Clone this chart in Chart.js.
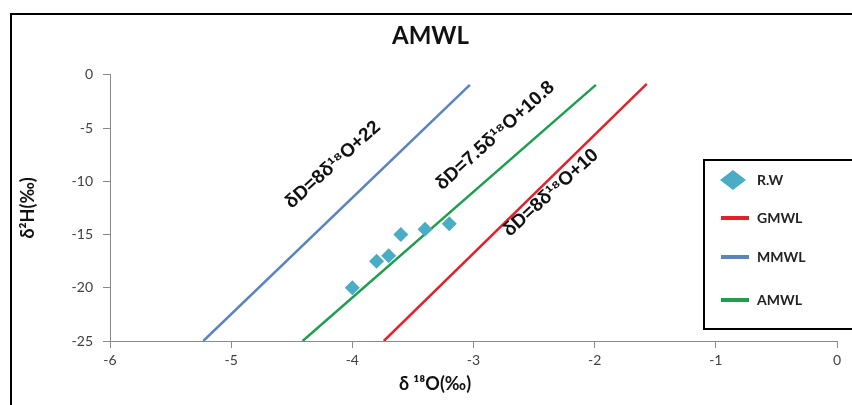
<!DOCTYPE html>
<html><head><meta charset="utf-8">
<script src="https://cdn.jsdelivr.net/npm/chart.js@4"></script>
<style>html,body{margin:0;padding:0;background:#fff;}#wrap{width:852px;height:405px;position:relative;}</style>
</head><body><div id="wrap"><canvas id="c" width="852" height="405"></canvas></div>
<script>
const titleText = 'AMWL';
const xTitle = 'δ ¹⁸O(‰)';
const yTitle = 'δ²H(‰)';
const rwX = [-4.0, -3.8, -3.7, -3.6, -3.4, -3.2];
const rwY = [-20, -17.5, -17, -15, -14.5, -14];
const gmwlX = [-3.74, -1.57];
const gmwlY = [-25, -0.85];
const mmwlX = [-5.23, -3.03];
const mmwlY = [-25, -0.95];
const amwlX = [-4.41, -1.99];
const amwlY = [-25, -0.95];
const seriesNames = ['R.W', 'GMWL', 'MMWL', 'AMWL'];
const lineLabels = ['δD=8δ¹⁸O+22', 'δD=7.5δ¹⁸O+10.8', 'δD=8δ¹⁸O+10'];
const lineLabelX = [-4.16, -2.82, -2.36];
const lineLabelY = [-8.46, -5.73, -11.09];
const xTicks = [-6, -5, -4, -3, -2, -1, 0];
const yTicks = [-25, -20, -15, -10, -5, 0];

const pts = (xs, ys) => xs.map((x, i) => ({x: x, y: ys[i]}));
const FONT = 'Lato, "Liberation Sans", sans-serif';

const framePlugin = {
  id: 'frame',
  beforeDraw(chart) {
    const ctx = chart.ctx;
    ctx.save();
    ctx.fillStyle = '#fff';
    ctx.fillRect(0, 0, chart.width, chart.height);
    ctx.strokeStyle = '#000';
    ctx.lineWidth = 2;
    ctx.beginPath();
    ctx.moveTo(11, 420); ctx.lineTo(11, 14); ctx.lineTo(870, 14);
    ctx.stroke();
    ctx.restore();
  }
};

const labelPlugin = {
  id: 'lineLabels',
  afterDatasetsDraw(chart) {
    const ctx = chart.ctx, xs = chart.scales.x, ys = chart.scales.y;
    ctx.save();
    ctx.fillStyle = '#111';
    ctx.font = 'bold 19px Arial, "Liberation Sans", sans-serif';
    ctx.textAlign = 'center';
    ctx.textBaseline = 'middle';
    lineLabels.forEach((t, i) => {
      ctx.save();
      ctx.translate(xs.getPixelForValue(lineLabelX[i]), ys.getPixelForValue(lineLabelY[i]));
      ctx.rotate(-42 * Math.PI / 180);
      ctx.fillText(t, 0, 0);
      ctx.restore();
    });
    // x axis title, centred under the whole figure as in the reference
    ctx.font = 'bold 18px ' + FONT;
    ctx.fillText(xTitle, 435, 384);
    ctx.restore();
  }
};

const legendPlugin = {
  id: 'boxLegend',
  afterDraw(chart) {
    const ctx = chart.ctx;
    ctx.save();
    ctx.fillStyle = '#fff';
    ctx.fillRect(704, 160, 160, 169);
    ctx.strokeStyle = '#000';
    ctx.lineWidth = 2;
    ctx.strokeRect(704, 160, 170, 169);
    const rowsY = [180, 218, 257, 300];
    ctx.font = 'bold 14px ' + FONT;
    ctx.textBaseline = 'middle';
    chart.data.datasets.forEach((ds, i) => {
      const y = rowsY[i];
      if (i === 0) {
        ctx.fillStyle = ds.backgroundColor;
        ctx.beginPath();
        ctx.moveTo(720, y); ctx.lineTo(733, y - 10); ctx.lineTo(746, y); ctx.lineTo(733, y + 10);
        ctx.closePath(); ctx.fill();
      } else {
        ctx.strokeStyle = ds.borderColor;
        ctx.lineWidth = 4;
        ctx.beginPath(); ctx.moveTo(721, y); ctx.lineTo(749, y); ctx.stroke();
      }
      ctx.fillStyle = '#222';
      ctx.fillText(ds.label, 757, y);
    });
    ctx.restore();
  }
};

new Chart(document.getElementById('c'), {
  type: 'scatter',
  data: {
    datasets: [
      {label: seriesNames[0], data: pts(rwX, rwY), pointStyle: 'rectRot', pointRadius: 7.5, backgroundColor: '#4bacc6', borderColor: '#4bacc6', borderWidth: 0, showLine: false, order: 0},
      {label: seriesNames[1], data: pts(gmwlX, gmwlY), showLine: true, borderColor: '#e3212b', borderWidth: 2.5, pointRadius: 0, order: 1},
      {label: seriesNames[2], data: pts(mmwlX, mmwlY), showLine: true, borderColor: '#5b83be', borderWidth: 2.5, pointRadius: 0, order: 2},
      {label: seriesNames[3], data: pts(amwlX, amwlY), showLine: true, borderColor: '#1f9e4e', borderWidth: 2.5, pointRadius: 0, order: 3}
    ]
  },
  options: {
    responsive: false,
    animation: false,
    layout: {padding: {left: 24, right: 15, top: 0, bottom: 0}},
    plugins: {
      legend: {display: false},
      tooltip: {enabled: false},
      title: {display: true, text: titleText, color: '#111', font: {family: FONT, size: 24, weight: 'bold'}, padding: {top: 22, bottom: 24}}
    },
    scales: {
      x: {
        type: 'linear', min: -6, max: 0,
        afterBuildTicks(s) { s.ticks = xTicks.map(v => ({value: v})); },
        afterFit(s) { s.height = 64; },
        grid: {drawOnChartArea: false, drawTicks: true, tickLength: 7, color: '#8a8a8a'},
        border: {color: '#8a8a8a', width: 1},
        ticks: {color: '#404040', font: {family: FONT, size: 14}, padding: 4},
        title: {display: false, text: xTitle}
      },
      y: {
        type: 'linear', min: -25, max: 0,
        afterBuildTicks(s) { s.ticks = yTicks.map(v => ({value: v})); },
        afterFit(s) { s.width = 86; },
        grid: {drawOnChartArea: false, drawTicks: true, tickLength: 7, color: '#8a8a8a'},
        border: {color: '#8a8a8a', width: 1},
        ticks: {color: '#404040', font: {family: FONT, size: 14}, padding: 10},
        title: {display: true, text: yTitle, color: '#111', font: {family: FONT, size: 18, weight: 'bold'}, padding: {top: -7, bottom: 0}}
      }
    }
  },
  plugins: [framePlugin, labelPlugin, legendPlugin]
});
</script></body></html>
